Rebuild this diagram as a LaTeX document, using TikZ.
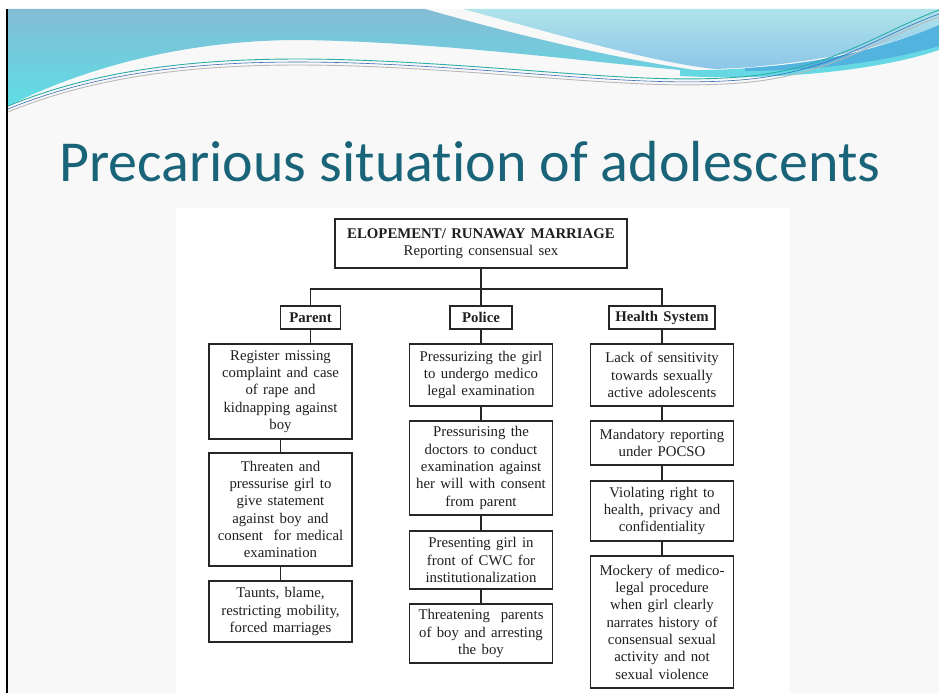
\documentclass[tikz,border=0pt]{standalone}
\usepackage{fontspec}
\setmainfont{Liberation Serif}[WordSpace={1.45}]
\newfontfamily\titlefont{Carlito}[Ligatures=NoCommon]
\definecolor{titlecol}{HTML}{1A6479}
\definecolor{lineC}{HTML}{262626}
\definecolor{bgcol}{HTML}{F8F8F8}
\definecolor{waveAtop}{HTML}{84BCD4}
\definecolor{waveAbot}{HTML}{5EDDE6}
\definecolor{waveBtop}{HTML}{B0E3EA}
\definecolor{waveBbot}{HTML}{8CC6E8}
\definecolor{waveBand}{HTML}{52B4DE}
\definecolor{waveCyan}{HTML}{66D8E4}
\definecolor{lnTeal}{HTML}{2AAFA8}
\definecolor{lnBlue}{HTML}{3A6CB8}
\begin{document}
\begin{tikzpicture}[x=1pt,y=-1pt,
  box/.style={draw=lineC, line width=1.4pt, fill=white, align=center, inner sep=2pt,
    font=\fontsize{14.8}{17.3}\selectfont, text=black!88},
  headbox/.style={box, font=\bfseries\fontsize{14.8}{17.3}\selectfont},
  conn/.style={draw=lineC, line width=1.9pt}]
\useasboundingbox (0,0) rectangle (939,693);
% background
\fill[white] (0,0) rectangle (939,693);
\fill[bgcol] (8,9) rectangle (939,693);
\fill[white] (176,208) rectangle (790,693);
\draw[black, line width=2pt] (7,9) -- (7,693);
% waves
\shade[top color=waveAtop, bottom color=waveAbot]
  (8,9) -- (425,9) .. controls (520,36) and (620,60) .. (715,73)
  .. controls (600,64) and (450,42) .. (300,40)
  .. controls (180,40) and (80,70) .. (8,106) -- cycle;
\shade[top color=waveBtop, bottom color=waveBbot]
  (463,9) -- (939,9) -- (939,25) .. controls (880,50) and (800,66) .. (715,69)
  .. controls (650,62) and (560,35) .. (463,9) -- cycle;
\fill[waveCyan] (680,70) .. controls (760,72) and (880,56) .. (939,30)
  -- (939,50) .. controls (880,70) and (780,81) .. (680,76) -- cycle;
\fill[waveBand] (745,68) .. controls (815,65) and (885,48) .. (939,25)
  -- (939,46) .. controls (885,62) and (815,71) .. (745,71) -- cycle;
\draw[lnTeal, line width=0.9pt] (8,106) .. controls (120,60) and (250,54) .. (400,62)
  .. controls (550,70) and (650,84) .. (740,77) .. controls (830,70) and (880,32) .. (939,10);
\draw[lnBlue, line width=0.6pt] (8,109) .. controls (120,63) and (250,57) .. (400,65)
  .. controls (550,73) and (650,87) .. (740,80) .. controls (830,73) and (880,35) .. (939,14);
\draw[gray!55, line width=0.9pt] (8,112) .. controls (120,66) and (250,60) .. (400,68)
  .. controls (550,76) and (650,90) .. (740,83) .. controls (830,76) and (880,38) .. (939,17);
% title
\node[anchor=base west, inner sep=0pt, text=titlecol, font=\titlefont\fontsize{58}{64}\selectfont]
  (title) at (59,181) {Precarious situation of adolescents};
% header boxes
\node[box, minimum width=292pt, minimum height=49pt] (top) at (481,243.5)
  {\textbf{ELOPEMENT/ RUNAWAY MARRIAGE}\\Reporting consensual sex};
\node[headbox, minimum width=60pt, minimum height=23pt] (parent) at (310.5,317.5) {Parent};
\node[headbox, minimum width=62pt, minimum height=23pt] (police) at (481,317.5) {Police};
\node[headbox, minimum width=106pt, minimum height=23pt] (health) at (662,317.5) {Health System};
% parent column
\node[box, minimum width=143pt, minimum height=95pt] (p1) at (280.5,391.5)
  {Register missing\\complaint and case\\of rape and\\kidnapping against\\boy};
\node[box, minimum width=143pt, minimum height=113pt] (p2) at (280.5,509.5)
  {Threaten and\\pressurise girl to\\give statement\\against boy and\\consent \ for medical\\examination};
\node[box, minimum width=143pt, minimum height=61pt] (p3) at (280.5,611.5)
  {Taunts, blame,\\restricting mobility,\\forced marriages};
% police column
\node[box, minimum width=143pt, minimum height=62pt] (q1) at (481,375)
  {Pressurizing the girl\\to undergo medico\\legal examination};
\node[box, minimum width=143pt, minimum height=94pt] (q2) at (481,468)
  {Pressurising the\\doctors to conduct\\examination against\\her will with consent\\from parent};
\node[box, minimum width=143pt, minimum height=58pt] (q3) at (481,560)
  {Presenting girl in\\front of CWC for\\institutionalization};
\node[box, minimum width=143pt, minimum height=59pt] (q4) at (481,633.5)
  {Threatening \ parents\\of boy and arresting\\the boy};
% health column
\node[box, minimum width=143pt, minimum height=62pt] (h1) at (662,375)
  {Lack of sensitivity\\towards sexually\\active adolescents};
\node[box, minimum width=143pt, minimum height=44pt] (h2) at (662,443)
  {Mandatory reporting\\under POCSO};
\node[box, minimum width=143pt, minimum height=60pt] (h3) at (662,511)
  {Violating right to\\health, privacy and\\confidentiality};
\node[box, minimum width=143pt, minimum height=132pt] (h4) at (662,622)
  {Mockery of medico-\\legal procedure\\when girl clearly\\narrates history of\\consensual sexual\\activity and not\\sexual violence};
% connectors
\draw[conn] (top.south) -- (police.north);
\draw[conn] (parent.north) -- ++(0,-16) -| (health.north);
\draw[conn] (parent.south) -- (parent.south |- p1.north);
\draw[conn] (p1.south) -- (p2.north);
\draw[conn] (p2.south) -- (p3.north);
\draw[conn] (police.south) -- (q1.north);
\draw[conn] (q1.south) -- (q2.north);
\draw[conn] (q2.south) -- (q3.north);
\draw[conn] (q3.south) -- (q4.north);
\draw[conn] (health.south) -- (h1.north);
\draw[conn] (h1.south) -- (h2.north);
\draw[conn] (h2.south) -- (h3.north);
\draw[conn] (h3.south) -- (h4.north);
\end{tikzpicture}
\end{document}
